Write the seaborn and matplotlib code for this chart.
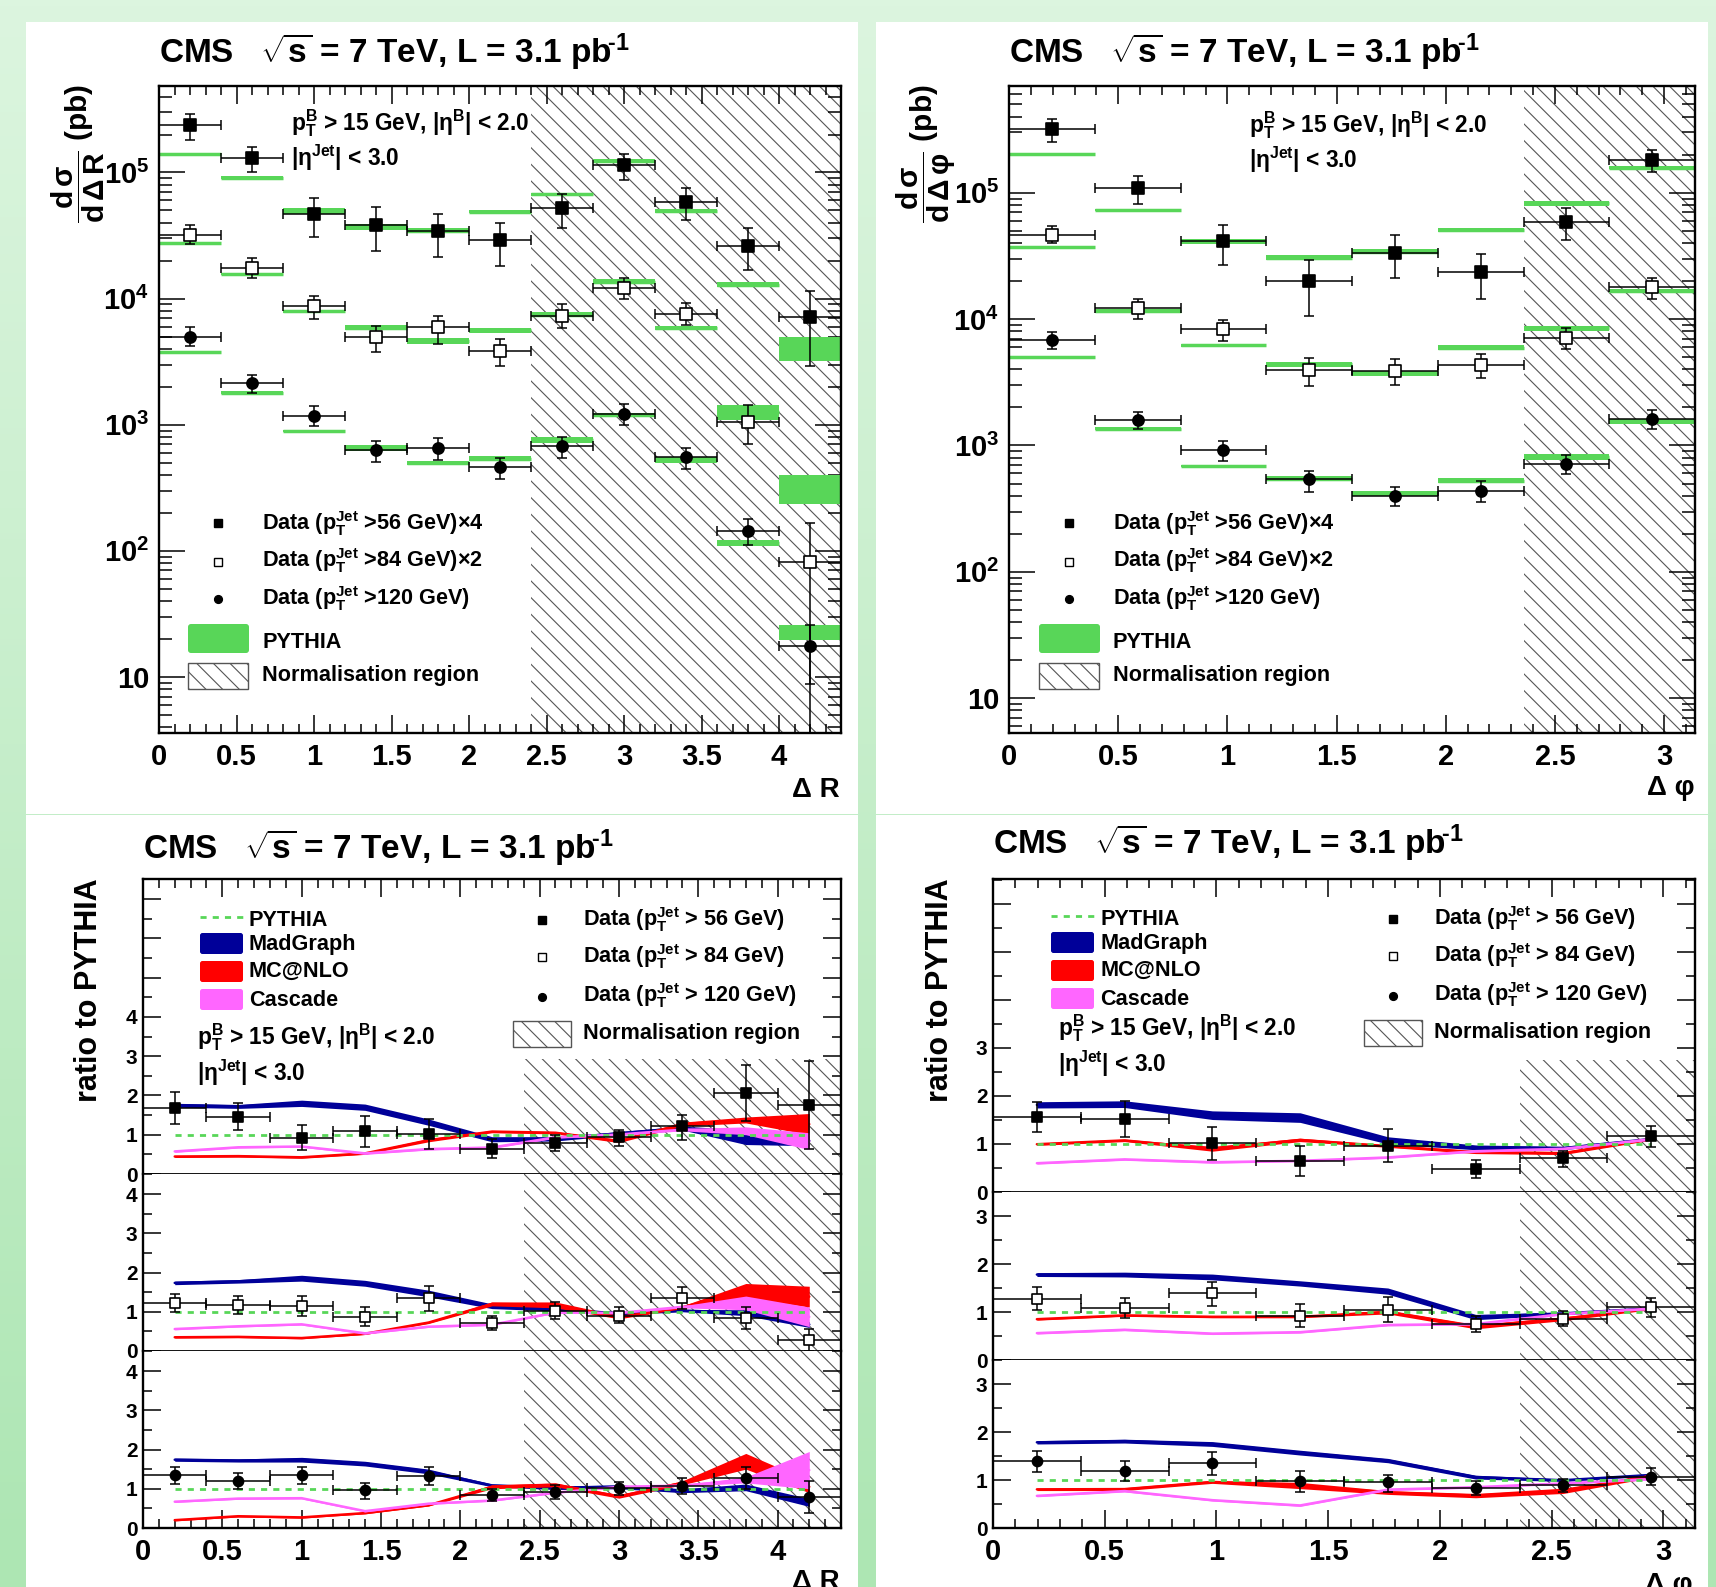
import numpy as np
import pandas as pd
import matplotlib
matplotlib.use("Agg")
import matplotlib.pyplot as plt
import seaborn as sns
from matplotlib.patches import Rectangle, FancyBboxPatch
from matplotlib.ticker import (MultipleLocator, FuncFormatter, LogLocator,
                               NullFormatter)

W, H = 1716, 1587

# ---------------- bins ----------------
dr_edges = np.array([0.0, 0.4, 0.8, 1.2, 1.6, 2.0, 2.4, 2.8, 3.2, 3.6, 4.0, 4.4])
dphi_edges = np.linspace(0, np.pi, 9)
NORM_DR = 2.4
NORM_DPHI = 3 * np.pi / 4

# ---------------- cross sections dsigma/dDeltaR : (value, low, high) ----------------
xs_r_56 = [(2.36e5, 1.8e5, 2.9e5), (1.31e5, 1.0e5, 1.6e5), (4.65e4, 3.1e4, 6.3e4),
           (3.81e4, 2.4e4, 5.3e4), (3.43e4, 2.13e4, 4.7e4), (2.94e4, 1.8e4, 4.0e4),
           (5.27e4, 3.6e4, 6.8e4), (1.14e5, 8.7e4, 1.4e5), (5.8e4, 4.2e4, 7.5e4),
           (2.62e4, 1.7e4, 3.6e4), (7.1e3, 2.9e3, 1.14e4)]
xs_r_84 = [(3.2e4, 2.7e4, 3.8e4), (1.76e4, 1.45e4, 2.1e4), (8.7e3, 6.9e3, 1.05e4),
           (5.0e3, 3.8e3, 6.1e3), (5.97e3, 4.4e3, 7.3e3), (3.85e3, 2.9e3, 4.8e3),
           (7.3e3, 5.8e3, 9.0e3), (1.22e4, 9.9e3, 1.45e4), (7.6e3, 6.2e3, 9.2e3),
           (1.06e3, 7.1e2, 1.43e3), (81, 3.0, 166)]
xs_r_120 = [(4.98e3, 4.2e3, 5.97e3), (2.13e3, 1.8e3, 2.5e3), (1.18e3, 9.8e2, 1.4e3),
            (632, 510, 750), (657, 530, 790), (461, 370, 545), (676, 545, 800),
            (1.21e3, 1.0e3, 1.46e3), (553, 450, 650), (144, 112, 180), (17.6, 8.8, 26)]
# PYTHIA band (low, high)
py_r_56 = [(1.37e5, 1.43e5), (8.9e4, 9.3e4), (4.7e4, 5.2e4), (3.5e4, 3.9e4), (3.3e4, 3.6e4),
           (4.75e4, 5.05e4), (6.5e4, 6.9e4), (1.18e5, 1.28e5), (4.8e4, 5.15e4),
           (1.23e4, 1.35e4), (3.2e3, 5.0e3)]
py_r_84 = [(2.68e4, 2.8e4), (1.54e4, 1.61e4), (7.7e3, 8.2e3), (5.6e3, 6.2e3), (4.4e3, 4.85e3),
           (5.35e3, 5.9e3), (7.1e3, 7.8e3), (1.3e4, 1.42e4), (5.6e3, 6.1e3),
           (1.1e3, 1.43e3), (236, 400)]
py_r_120 = [(3.67e3, 3.82e3), (1.76e3, 1.84e3), (875, 910), (615, 690), (480, 520),
            (515, 565), (720, 800), (1.17e3, 1.24e3), (495, 555), (110, 121), (19.5, 26)]

# ---------------- cross sections dsigma/dDeltaPhi ----------------
xs_p_56 = [(3.2e5, 2.52e5, 3.83e5), (1.1e5, 8.2e4, 1.37e5), (4.16e4, 2.66e4, 5.6e4),
           (2.0e4, 1.06e4, 2.95e4), (3.34e4, 2.1e4, 4.6e4), (2.37e4, 1.43e4, 3.3e4),
           (5.86e4, 4.2e4, 7.6e4), (1.82e5, 1.45e5, 2.2e5)]
xs_p_84 = [(4.67e4, 4.0e4, 5.5e4), (1.22e4, 1.0e4, 1.45e4), (8.3e3, 6.7e3, 9.9e3),
           (3.98e3, 2.97e3, 4.9e3), (3.87e3, 3.0e3, 4.8e3), (4.34e3, 3.4e3, 5.3e3),
           (7.07e3, 5.8e3, 8.5e3), (1.78e4, 1.44e4, 2.1e4)]
xs_p_120 = [(6.8e3, 5.8e3, 7.9e3), (1.6e3, 1.34e3, 1.85e3), (927, 760, 1090),
            (538, 430, 630), (400, 330, 470), (440, 360, 520), (716, 590, 840),
            (1.61e3, 1.36e3, 1.9e3)]
py_p_56 = [(2.0e5, 2.08e5), (7.15e4, 7.45e4), (3.95e4, 4.3e4), (2.95e4, 3.2e4),
           (3.25e4, 3.6e4), (4.9e4, 5.25e4), (7.9e4, 8.6e4), (1.54e5, 1.62e5)]
py_p_84 = [(3.62e4, 3.78e4), (1.12e4, 1.21e4), (6.0e3, 6.4e3), (4.2e3, 4.6e3),
           (3.57e3, 3.92e3), (5.65e3, 6.25e3), (8.1e3, 8.9e3), (1.62e4, 1.72e4)]
py_p_120 = [(4.87e3, 5.07e3), (1.33e3, 1.39e3), (675, 705), (520, 575), (400, 440),
            (505, 550), (770, 850), (1.48e3, 1.62e3)]

# ---------------- ratios to PYTHIA, DeltaR ----------------
rd_r1 = [(1.69, 1.28, 2.08), (1.45, 1.12, 1.82), (0.92, 0.62, 1.24), (1.09, 0.68, 1.47),
         (1.01, 0.63, 1.40), (0.64, 0.40, 0.88), (0.78, 0.58, 0.99), (0.94, 0.71, 1.12),
         (1.21, 0.87, 1.50), (2.05, 1.35, 2.78), (1.76, 0.64, 2.88)]
rd_r2 = [(1.22, 1.00, 1.45), (1.17, 0.94, 1.39), (1.15, 0.90, 1.39), (0.875, 0.64, 1.11),
         (1.35, 1.03, 1.65), (0.72, 0.53, 0.90), (1.02, 0.81, 1.26), (0.90, 0.72, 1.11),
         (1.35, 1.07, 1.62), (0.84, 0.55, 1.11), (0.27, 0.0, 0.55)]
rd_r3 = [(1.34, 1.12, 1.56), (1.20, 1.00, 1.41), (1.34, 1.12, 1.56), (0.96, 0.74, 1.15),
         (1.33, 1.09, 1.56), (0.84, 0.68, 1.00), (0.92, 0.74, 1.09), (1.02, 0.83, 1.18),
         (1.07, 0.87, 1.28), (1.28, 1.00, 1.56), (0.79, 0.38, 1.21)]
mg_r1 = [(1.70, 1.80), (1.67, 1.77), (1.72, 1.88), (1.62, 1.78), (1.24, 1.40), (0.82, 0.95),
         (0.84, 0.95), (0.99, 1.08), (1.12, 1.22), (0.75, 1.12), (0.72, 0.97)]
nlo_r1 = [(0.42, 0.47), (0.43, 0.48), (0.40, 0.45), (0.50, 0.55), (0.82, 0.90), (1.05, 1.11),
          (1.02, 1.08), (0.80, 0.88), (1.22, 1.32), (1.30, 1.45), (1.00, 1.54)]
cas_r1 = [(0.55, 0.60), (0.66, 0.70), (0.68, 0.72), (0.50, 0.55), (0.61, 0.66), (0.65, 0.70),
          (0.91, 0.96), (0.98, 1.03), (1.10, 1.16), (1.00, 1.20), (0.62, 1.05)]
mg_r2 = [(1.69, 1.78), (1.73, 1.82), (1.78, 1.93), (1.65, 1.80), (1.38, 1.55), (1.08, 1.20),
         (1.02, 1.10), (0.92, 1.00), (1.00, 1.06), (0.90, 1.05), (0.60, 0.75)]
nlo_r2 = [(0.33, 0.37), (0.34, 0.38), (0.31, 0.35), (0.42, 0.46), (0.70, 0.75), (1.15, 1.25),
          (1.10, 1.25), (0.82, 0.90), (1.08, 1.15), (1.35, 1.72), (1.12, 1.65)]
cas_r2 = [(0.54, 0.58), (0.61, 0.65), (0.66, 0.70), (0.43, 0.47), (0.60, 0.64), (0.65, 0.69),
          (0.96, 1.00), (0.95, 0.99), (1.10, 1.15), (1.05, 1.40), (0.62, 1.12)]
mg_r3 = [(1.70, 1.78), (1.68, 1.76), (1.68, 1.80), (1.58, 1.70), (1.38, 1.50), (1.05, 1.12),
         (0.98, 1.07), (1.00, 1.10), (0.90, 1.00), (0.95, 1.12), (0.55, 0.75)]
nlo_r3 = [(0.18, 0.22), (0.28, 0.32), (0.25, 0.29), (0.36, 0.40), (0.56, 0.60), (1.00, 1.10),
          (1.05, 1.15), (0.76, 0.85), (1.10, 1.20), (1.50, 1.90), (0.90, 1.20)]
cas_r3 = [(0.65, 0.69), (0.73, 0.77), (0.74, 0.78), (0.41, 0.45), (0.60, 0.64), (0.68, 0.72),
          (0.88, 0.92), (1.03, 1.07), (1.06, 1.10), (1.15, 1.30), (1.00, 1.95)]

# ---------------- ratios to PYTHIA, DeltaPhi ----------------
rd_p1 = [(1.57, 1.25, 1.88), (1.52, 1.15, 1.90), (1.02, 0.67, 1.36), (0.65, 0.33, 0.96),
         (0.96, 0.63, 1.31), (0.47, 0.29, 0.67), (0.71, 0.52, 0.86), (1.17, 0.94, 1.38)]
rd_p2 = [(1.28, 1.05, 1.53), (1.08, 0.87, 1.29), (1.39, 1.13, 1.63), (0.92, 0.68, 1.16),
         (1.05, 0.79, 1.32), (0.76, 0.58, 0.92), (0.86, 0.71, 1.02), (1.10, 0.89, 1.29)]
rd_p3 = [(1.39, 1.16, 1.60), (1.18, 0.97, 1.39), (1.35, 1.10, 1.58), (0.98, 0.76, 1.18),
         (0.95, 0.76, 1.10), (0.84, 0.68, 0.97), (0.89, 0.74, 1.03), (1.07, 0.89, 1.24)]
mg_p1 = [(1.75, 1.88), (1.76, 1.90), (1.51, 1.69), (1.45, 1.65), (1.00, 1.15), (0.88, 0.98),
         (0.88, 0.95), (1.08, 1.13)]
nlo_p1 = [(0.97, 1.02), (1.05, 1.10), (0.85, 0.95), (1.05, 1.12), (0.93, 0.98), (0.80, 0.86),
          (0.78, 0.84), (1.08, 1.13)]
cas_p1 = [(0.58, 0.62), (0.66, 0.70), (0.60, 0.64), (0.63, 0.67), (0.70, 0.74), (0.83, 0.87),
          (0.88, 0.92), (1.08, 1.12)]
mg_p2 = [(1.74, 1.82), (1.73, 1.83), (1.67, 1.79), (1.54, 1.65), (1.37, 1.50), (0.84, 0.95),
         (0.94, 1.00), (1.05, 1.10)]
nlo_p2 = [(0.83, 0.87), (0.91, 0.95), (0.88, 0.92), (0.88, 0.92), (0.96, 1.04), (0.65, 0.74),
          (0.82, 0.90), (1.05, 1.10)]
cas_p2 = [(0.54, 0.58), (0.61, 0.65), (0.53, 0.57), (0.56, 0.60), (0.71, 0.75), (0.73, 0.77),
          (0.94, 0.98), (1.05, 1.09)]
mg_p3 = [(1.75, 1.82), (1.77, 1.85), (1.70, 1.80), (1.52, 1.62), (1.36, 1.45), (1.02, 1.10),
         (0.97, 1.02), (1.08, 1.13)]
nlo_p3 = [(0.78, 0.83), (0.78, 0.84), (0.93, 0.99), (0.82, 0.95), (0.70, 0.78), (0.63, 0.72),
          (0.72, 0.83), (1.05, 1.12)]
cas_p3 = [(0.65, 0.69), (0.75, 0.79), (0.56, 0.60), (0.45, 0.49), (0.78, 0.82), (0.83, 0.87),
          (0.91, 0.95), (1.00, 1.04)]

GREEN = "#58d658"
NAVY = "#000099"
RED = "#ff0000"
PINK = "#ff66ff"
HATCH_C = "#555555"
HATCH = "\\\\"
LEG_FS = 15.6
CUT_FS = 16.3

sns.set_style("ticks")
plt.rcParams.update({
    "font.family": ["Liberation Sans", "DejaVu Sans"],
    "font.weight": "bold",
    "mathtext.fontset": "custom",
    "mathtext.rm": "Liberation Sans:bold",
    "mathtext.it": "Liberation Sans:bold",
    "mathtext.bf": "Liberation Sans:bold",
    "mathtext.sf": "Liberation Sans:bold",
    "mathtext.default": "rm",
    "hatch.linewidth": 0.8,
    "axes.edgecolor": "black",
    "text.color": "black",
    "xtick.color": "black",
    "ytick.color": "black",
})

fig = plt.figure(figsize=(W / 100, H / 100), dpi=100)


def add_ax(x0, y0, x1, y1, z=0):
    return fig.add_axes([x0 / W, 1 - y1 / H, (x1 - x0) / W, (y1 - y0) / H], zorder=z)


# background: green gradient with white pads
bg = add_ax(0, 0, W, H, z=-20)
top_c = np.array([220, 245, 223]) / 255
bot_c = np.array([173, 230, 179]) / 255
tt = np.linspace(0, 1, 256)[:, None, None]
bg.imshow(top_c * (1 - tt) + bot_c * tt, extent=(0, W, H, 0), aspect="auto")
bg.set_xlim(0, W)
bg.set_ylim(H, 0)
bg.axis("off")
for (x0, y0, x1, y1) in [(26, 22, 858, 814), (876, 22, 1708, 814),
                         (26, 815, 858, 1587), (876, 815, 1708, 1587)]:
    bg.add_patch(Rectangle((x0, y0), x1 - x0, y1 - y0, facecolor="white", lw=0))

xfmt = FuncFormatter(lambda v, p: f"{v:g}")


def log_fmt(v, p):
    e = int(round(np.log10(v)))
    return "10" if e == 1 else r"$10^{%d}$" % e


def style_x(ax):
    for s in ax.spines.values():
        s.set_linewidth(1.7)
        s.set_color("black")
    ax.xaxis.set_major_locator(MultipleLocator(0.5))
    ax.xaxis.set_minor_locator(MultipleLocator(0.1))
    ax.xaxis.set_major_formatter(xfmt)
    ax.tick_params(which="both", direction="in", top=True, right=True, width=1.1)
    ax.tick_params(axis="x", which="major", length=13, labelsize=21, pad=7)
    ax.tick_params(axis="x", which="minor", length=6.5)


def draw_xsec(ax, edges, sets, pythias, norm_lo, ylim):
    centers = 0.5 * (edges[1:] + edges[:-1])
    half = 0.5 * np.diff(edges)
    ax.set_yscale("log")
    ax.set_xlim(edges[0], edges[-1])
    ax.set_ylim(*ylim)
    ax.axvspan(norm_lo, edges[-1], facecolor="none", edgecolor=HATCH_C, hatch=HATCH,
               lw=0, zorder=0)
    marks = [("s", "black"), ("s", "white"), ("o", "black")]
    for vals, py, (m, fc) in zip(sets, pythias, marks):
        lo, hi = np.array(py).T
        ax.bar(edges[:-1], hi - lo, width=np.diff(edges), bottom=lo, align="edge",
               color=GREEN, lw=0, zorder=1)
        ax.hlines(np.sqrt(lo * hi), edges[:-1], edges[1:], color=GREEN, lw=2.5, zorder=1)
        v, vlo, vhi = np.array(vals).T
        ax.errorbar(centers, v, xerr=half, yerr=[v - vlo, vhi - v], fmt="none",
                    ecolor="black", elinewidth=1.1, capsize=3.6, capthick=1.1, zorder=3)
        df = pd.DataFrame({"x": centers, "y": v})
        sns.scatterplot(data=df, x="x", y="y", ax=ax, marker=m, s=64, color=fc,
                        edgecolor="black", linewidth=1.2, zorder=4, legend=False)
    style_x(ax)
    ax.yaxis.set_major_locator(LogLocator(base=10, numticks=12))
    ax.yaxis.set_minor_locator(LogLocator(base=10, subs=np.arange(2, 10), numticks=12))
    ax.yaxis.set_major_formatter(FuncFormatter(log_fmt))
    ax.yaxis.set_minor_formatter(NullFormatter())
    ax.tick_params(axis="y", which="major", length=18.7, labelsize=21, pad=7)
    ax.tick_params(axis="y", which="minor", length=9.4)
    ax.set_xlabel("")
    ax.set_ylabel("")


def draw_ratio(axes, edges, ymaxs, datas, mgs, nlos, cass, norm_lo, norm_top, max_label):
    centers = 0.5 * (edges[1:] + edges[:-1])
    half = 0.5 * np.diff(edges)
    marks = [("s", "black"), ("s", "white"), ("o", "black")]
    for i, ax in enumerate(axes):
        ax.set_xlim(edges[0], edges[-1])
        ax.set_ylim(0, ymaxs[i])
        htop = norm_top if i == 0 else ymaxs[i]
        ax.add_patch(Rectangle((norm_lo, 0), edges[-1] - norm_lo, htop, facecolor="none",
                               edgecolor=HATCH_C, hatch=HATCH, lw=0, zorder=0.5))
        for pairs, col, z in [(mgs[i], NAVY, 1), (nlos[i], RED, 2), (cass[i], PINK, 3)]:
            lo, hi = np.array(pairs).T
            ax.fill_between(centers, lo, hi, color=col, lw=0, zorder=z)
            ax.plot(centers, 0.5 * (lo + hi), color=col, lw=1.8, zorder=z)
        sns.lineplot(x=centers, y=np.ones(len(centers)), ax=ax, color=GREEN, lw=2,
                     linestyle=(0, (2.2, 2.2)), zorder=4)
        v, vlo, vhi = np.array(datas[i]).T
        ax.errorbar(centers, v, xerr=half, yerr=[v - vlo, vhi - v], fmt="none",
                    ecolor="black", elinewidth=1.1, capsize=3.6, capthick=1.1, zorder=5)
        m, fc = marks[i]
        sns.scatterplot(x=centers, y=v, ax=ax, marker=m, s=52, color=fc,
                        edgecolor="black", linewidth=1.2, zorder=6, legend=False)
        style_x(ax)
        ax.yaxis.set_major_locator(MultipleLocator(1))
        ax.yaxis.set_minor_locator(MultipleLocator(0.5))
        ax.yaxis.set_major_formatter(
            FuncFormatter(lambda val, p: f"{val:.0f}" if val <= max_label + 0.01 else ""))
        ax.tick_params(axis="y", which="major", length=13, labelsize=15, pad=4)
        ax.tick_params(axis="y", which="minor", length=6.5)
        ax.set_xlabel("")
        ax.set_ylabel("")
    axes[0].tick_params(axis="x", which="both", bottom=False, labelbottom=False)
    axes[1].tick_params(axis="x", which="both", bottom=False, top=False, labelbottom=False)
    axes[2].tick_params(axis="x", which="both", top=False)
    axes[0].spines["bottom"].set_linewidth(1.3)
    axes[1].spines["top"].set_visible(False)
    axes[1].spines["bottom"].set_linewidth(1.3)
    axes[2].spines["top"].set_visible(False)


ax_tl = add_ax(159, 86, 841, 733)
ax_tr = add_ax(1009, 86, 1695, 733)
bl = [add_ax(143, 879, 841, 1174), add_ax(143, 1174, 841, 1351), add_ax(143, 1351, 841, 1528)]
br = [add_ax(993, 879, 1695, 1192), add_ax(993, 1192, 1695, 1360), add_ax(993, 1360, 1695, 1528)]

draw_xsec(ax_tl, dr_edges, [xs_r_56, xs_r_84, xs_r_120], [py_r_56, py_r_84, py_r_120],
          NORM_DR, (3.6, 4.85e5))
draw_xsec(ax_tr, dphi_edges, [xs_p_56, xs_p_84, xs_p_120], [py_p_56, py_p_84, py_p_120],
          NORM_DPHI, (5.3, 7.0e5))
draw_ratio(bl, dr_edges, [7.51, 4.51, 4.51], [rd_r1, rd_r2, rd_r3],
           [mg_r1, mg_r2, mg_r3], [nlo_r1, nlo_r2, nlo_r3], [cas_r1, cas_r2, cas_r3],
           NORM_DR, 2.92, 4)
draw_ratio(br, dphi_edges, [6.52, 3.5, 3.5], [rd_p1, rd_p2, rd_p3],
           [mg_p1, mg_p2, mg_p3], [nlo_p1, nlo_p2, nlo_p3], [cas_p1, cas_p2, cas_p3],
           NORM_DPHI, 2.74, 3)

# ---------------- overlay: titles, labels, legends (pixel coordinates) ----------------
ov = add_ax(0, 0, W, H, z=20)
ov.set_xlim(0, W)
ov.set_ylim(H, 0)
ov.axis("off")

title = r"CMS   $\sqrt{s}$ = 7 TeV, L = 3.1 pb$^{\!\text{-}1}$"
for x, y in [(159, 63), (1009, 63), (143, 859), (993, 854)]:
    ov.text(x, y, title, fontsize=24, ha="left", va="baseline")

ov.text(78, 84, r"$\dfrac{d\,σ}{d\,Δ\,R}$ (pb)", fontsize=21.5, rotation=90,
        ha="center", va="top")
ov.text(926, 84, r"$\dfrac{d\,σ}{d\,Δ\,φ}$ (pb)", fontsize=21.5, rotation=90,
        ha="center", va="top")
ov.text(89, 878, "ratio to PYTHIA", fontsize=22, rotation=90, ha="center", va="top")
ov.text(940, 878, "ratio to PYTHIA", fontsize=22, rotation=90, ha="center", va="top")
ov.text(840, 797, "Δ R", fontsize=20, ha="right", va="baseline")
ov.text(1695, 795, "Δ φ", fontsize=20, ha="right", va="baseline")
ov.text(840, 1589, "Δ R", fontsize=20, ha="right", va="baseline")
ov.text(1693, 1592, "Δ φ", fontsize=20, ha="right", va="baseline")

cut1 = r"$p_{T}^{B}$ > 15 GeV, $|η^{B}|$ < 2.0"
cut2 = r"$|η^{Jet}|$ < 3.0"
for x, y1, y2 in [(291, 130, 166), (1249, 132, 168), (197, 1044, 1081), (1058, 1035, 1072)]:
    ov.text(x, y1, cut1, fontsize=CUT_FS, va="baseline")
    ov.text(x, y2, cut2, fontsize=CUT_FS, va="baseline")


def marker(x, y, m, fc, ms=5.6):
    ov.plot([x], [y], marker=m, ms=ms, mfc=fc, mec="black", mew=1.0, ls="none")


def hatch_box(x, y, w, h):
    ov.add_patch(Rectangle((x, y), w, h, facecolor="white", edgecolor=HATCH_C, lw=1.0,
                           hatch=HATCH))


# legends of the cross-section panels
for dx in (0, 851):
    rows = [(523, 530, "s", "black", r"Data ($p_{T}^{Jet}$ >56 GeV)×4"),
            (562, 567, "s", "white", r"Data ($p_{T}^{Jet}$ >84 GeV)×2"),
            (599, 605, "o", "black", r"Data ($p_{T}^{Jet}$ >120 GeV)")]
    for yc, yb, m, fc, lab in rows:
        marker(218 + dx, yc, m, fc)
        ov.text(262 + dx, yb, lab, fontsize=LEG_FS, va="baseline")
    ov.add_patch(FancyBboxPatch((188 + dx, 624), 61, 29, boxstyle="round,pad=0,rounding_size=3",
                                facecolor=GREEN, lw=0))
    ov.text(262 + dx, 648, "PYTHIA", fontsize=LEG_FS, va="baseline")
    hatch_box(188 + dx, 663, 60, 26)
    ov.text(262 + dx, 681, "Normalisation region", fontsize=LEG_FS, va="baseline")

# legends of the ratio panels
for dx, dy in ((0, 0), (851, -1)):
    ov.plot([200 + dx, 243 + dx], [917 + dy, 917 + dy], color=GREEN, lw=2,
            ls=(0, (2.2, 2.2)))
    ov.text(249 + dx, 926 + dy, "PYTHIA", fontsize=LEG_FS, va="baseline")
    for yb, col, lab, ytxt in [(933, NAVY, "MadGraph", 950), (961, RED, "MC@NLO", 977),
                               (989, PINK, "Cascade", 1006)]:
        ov.add_patch(FancyBboxPatch((200 + dx, yb + dy), 43, 21,
                                    boxstyle="round,pad=0,rounding_size=2.5",
                                    facecolor=col, lw=0))
        ov.text(249 + dx, ytxt + dy, lab, fontsize=LEG_FS, va="baseline")
    rrows = [(920, 926, "s", "black", r"Data ($p_{T}^{Jet}$ > 56 GeV)"),
             (957, 963, "s", "white", r"Data ($p_{T}^{Jet}$ > 84 GeV)"),
             (997, 1002, "o", "black", r"Data ($p_{T}^{Jet}$ > 120 GeV)")]
    for yc, yb, m, fc, lab in rrows:
        marker(542 + dx, yc + dy, m, fc)
        ov.text(583 + dx, yb + dy, lab, fontsize=LEG_FS, va="baseline")
    hatch_box(513 + dx, 1021 + dy, 58, 26)
    ov.text(583 + dx, 1039 + dy, "Normalisation region", fontsize=LEG_FS, va="baseline")

fig.savefig("out.png", dpi=100)
